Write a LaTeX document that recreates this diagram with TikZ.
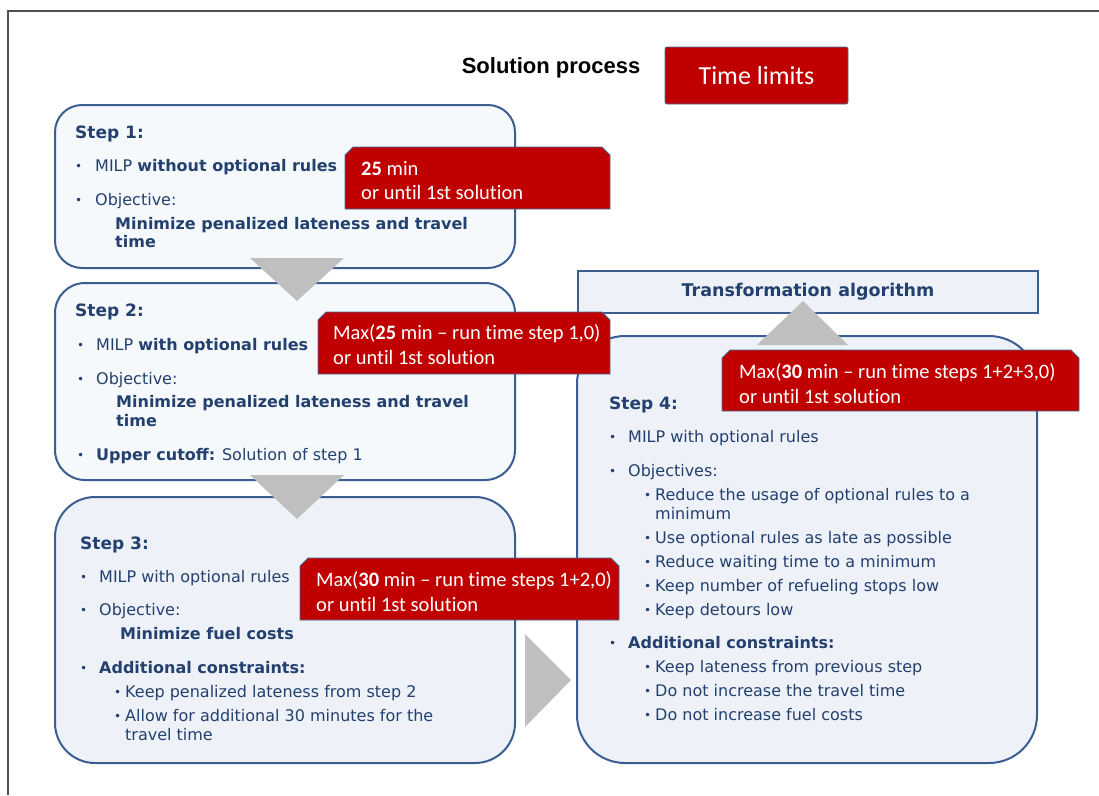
\documentclass[tikz,border=0pt]{standalone}
\usepackage{fontspec}
\setmainfont{DejaVu Sans}
\newfontfamily\calib[Ligatures={NoCommon}]{Carlito}
\newfontfamily\arialf{Liberation Sans}
\definecolor{txtblue}{HTML}{23406E}
\definecolor{boxline}{HTML}{3B5E92}
\definecolor{fillA}{HTML}{F6F9FC}
\definecolor{fillB}{HTML}{EEF2F8}
\definecolor{redfill}{HTML}{C00000}
\definecolor{redline}{HTML}{41719C}
\definecolor{trigray}{HTML}{BFBFBF}
\definecolor{framegray}{HTML}{505050}
\begin{document}
\begin{tikzpicture}[x=1pt,y=-1pt,
  txt/.style={anchor=base west, inner sep=0pt, text=txtblue, font=\fontsize{16}{19}\selectfont},
  btxt/.style={txt, font=\bfseries\fontsize{16}{19}\selectfont},
  steptxt/.style={txt, font=\bfseries\fontsize{17}{19}\selectfont},
  bul/.style={anchor=base west, inner sep=0pt, text=txtblue, font=\fontsize{12}{19}\selectfont},
  stepbox/.style={draw=boxline, line width=2pt},
  redbox/.style={fill=redfill, draw=redline, line width=0.8pt},
  redtxt/.style={anchor=base west, inner sep=0pt, text=white, font=\calib\fontsize{20.5}{24}\selectfont},
  tri/.style={fill=trigray, draw=none}
]
\useasboundingbox (0,0) rectangle (1099,795);
% frame
\draw[framegray, line width=1.5pt] (8,795) -- (8,11) -- (1099,11);

% title
\node[anchor=base, inner sep=0pt, font=\arialf\bfseries\fontsize{22}{24}\selectfont] (title) at (551,73) {Solution process};
\node[fill=redfill, draw=redline, line width=0.8pt, rounded corners=2pt, minimum width=183pt, minimum height=57pt, text=white, font=\calib\fontsize{26}{28}\selectfont, inner sep=0pt] (tl) at (756.5,75.5) {Time limits};

% step boxes
\draw[stepbox, fill=fillA, rounded corners=27pt] (55,105) rectangle (515,268);
\draw[stepbox, fill=fillA, rounded corners=30pt] (55,283) rectangle (515,480);
\draw[stepbox, fill=fillB, rounded corners=40pt] (55,497) rectangle (515,763);
\draw[stepbox, fill=fillB, rounded corners=48pt] (577,336) rectangle (1037,763);
\node[draw=boxline, line width=2pt, fill=fillB, minimum width=460pt, minimum height=42pt, inner sep=0pt, text=txtblue, font=\bfseries\fontsize{17.5}{19}\selectfont] (ta) at (808,292) {Transformation algorithm};

% triangles
\fill[tri] (250,258) -- (344,258) -- (297,301) -- cycle;
\fill[tri] (250,475) -- (344,475) -- (297,519) -- cycle;
\fill[tri] (525,634) -- (571,680) -- (525,727) -- cycle;
\fill[tri] (757,345) -- (848,345) -- (803,301) -- cycle;

% Step 1 text
\node[steptxt] (s1) at (75,138) {Step 1:};
\node[bul] (s1b1) at (75,170) {•};
\node[txt] (s1l1) at (95,171) {MILP \textbf{without optional rules}};
\node[bul] (s1b2) at (75,204) {•};
\node[txt] (s1l2) at (95,205) {Objective:};
\node[btxt] (s1l3) at (115,229) {Minimize penalized lateness and travel};
\node[btxt] (s1l4) at (115,247) {time};

% Step 2 text
\node[steptxt] (s2) at (75,316) {Step 2:};
\node[bul] (s2b1) at (77,349) {•};
\node[txt] (s2l1) at (96,350) {MILP \textbf{with optional rules}};
\node[bul] (s2b2) at (77,383) {•};
\node[txt] (s2l2) at (96,384) {Objective:};
\node[btxt] (s2l3) at (116,407) {Minimize penalized lateness and travel};
\node[btxt] (s2l4) at (116,426) {time};
\node[bul] (s2b3) at (77,459) {•};
\node[txt] (s2l5) at (96,460) {\textbf{Upper cutoff:} Solution of step 1};

% Step 3 text
\node[steptxt] (s3) at (80,549) {Step 3:};
\node[bul] (s3b1) at (80,581) {•};
\node[txt] (s3l1) at (99,582) {MILP with optional rules};
\node[bul] (s3b2) at (80,614) {•};
\node[txt] (s3l2) at (99,615) {Objective:};
\node[btxt] (s3l3) at (120,639) {Minimize fuel costs};
\node[bul] (s3b3) at (80,672) {•};
\node[btxt] (s3l4) at (99,673) {Additional constraints:};
\node[bul] (s3b4) at (114,696) {•};
\node[txt] (s3l5) at (125,697) {Keep penalized lateness from step 2};
\node[bul] (s3b5) at (114,720) {•};
\node[txt] (s3l6) at (125,721) {Allow for additional 30 minutes for the};
\node[txt] (s3l7) at (125,740) {travel time};

% Step 4 text
\node[steptxt] (s4) at (609,409) {Step 4:};
\node[bul] (s4b1) at (609,441) {•};
\node[txt] (s4l1) at (628,442) {MILP with optional rules};
\node[bul] (s4b2) at (609,475) {•};
\node[txt] (s4l2) at (628,476) {Objectives:};
\node[bul] (s4c1) at (644,499) {•};
\node[txt] (s4d1) at (655,500) {Reduce the usage of optional rules to a};
\node[txt] (s4d1b) at (655,519) {minimum};
\node[bul] (s4c2) at (644,542) {•};
\node[txt] (s4d2) at (655,543) {Use optional rules as late as possible};
\node[bul] (s4c3) at (644,566) {•};
\node[txt] (s4d3) at (655,567) {Reduce waiting time to a minimum};
\node[bul] (s4c4) at (644,590) {•};
\node[txt] (s4d4) at (655,591) {Keep number of refueling stops low};
\node[bul] (s4c5) at (644,614) {•};
\node[txt] (s4d5) at (655,615) {Keep detours low};
\node[bul] (s4b3) at (609,647) {•};
\node[btxt] (s4l3) at (628,648) {Additional constraints:};
\node[bul] (s4c6) at (644,671) {•};
\node[txt] (s4d6) at (655,672) {Keep lateness from previous step};
\node[bul] (s4c7) at (644,695) {•};
\node[txt] (s4d7) at (655,696) {Do not increase the travel time};
\node[bul] (s4c8) at (644,719) {•};
\node[txt] (s4d8) at (655,720) {Do not increase fuel costs};

% red boxes
\draw[redbox] (345,209) -- (345,155) -- (353,147) -- (602,147) -- (610,155) -- (610,209) -- cycle;
\node[redtxt] (r1a) at (361,175) {\textbf{25} min};
\node[redtxt] (r1b) at (361,199) {or until 1st solution};
\draw[redbox] (318,374) -- (318,320) -- (326,312) -- (602,312) -- (610,320) -- (610,374) -- cycle;
\node[redtxt] (r2a) at (333,339) {Max(\textbf{25} min – run time step 1,0)};
\node[redtxt] (r2b) at (333,364) {or until 1st solution};
\draw[redbox] (300,620) -- (300,566) -- (308,558) -- (611,558) -- (619,566) -- (619,620) -- cycle;
\node[redtxt] (r3a) at (316,586) {Max(\textbf{30} min – run time steps 1+2,0)};
\node[redtxt] (r3b) at (316,611) {or until 1st solution};
\draw[redbox] (722,411) -- (722,358) -- (730,350) -- (1071,350) -- (1079,358) -- (1079,411) -- cycle;
\node[redtxt] (r4a) at (739,378) {Max(\textbf{30} min – run time steps 1+2+3,0)};
\node[redtxt] (r4b) at (739,403) {or until 1st solution};
\end{tikzpicture}
\end{document}
